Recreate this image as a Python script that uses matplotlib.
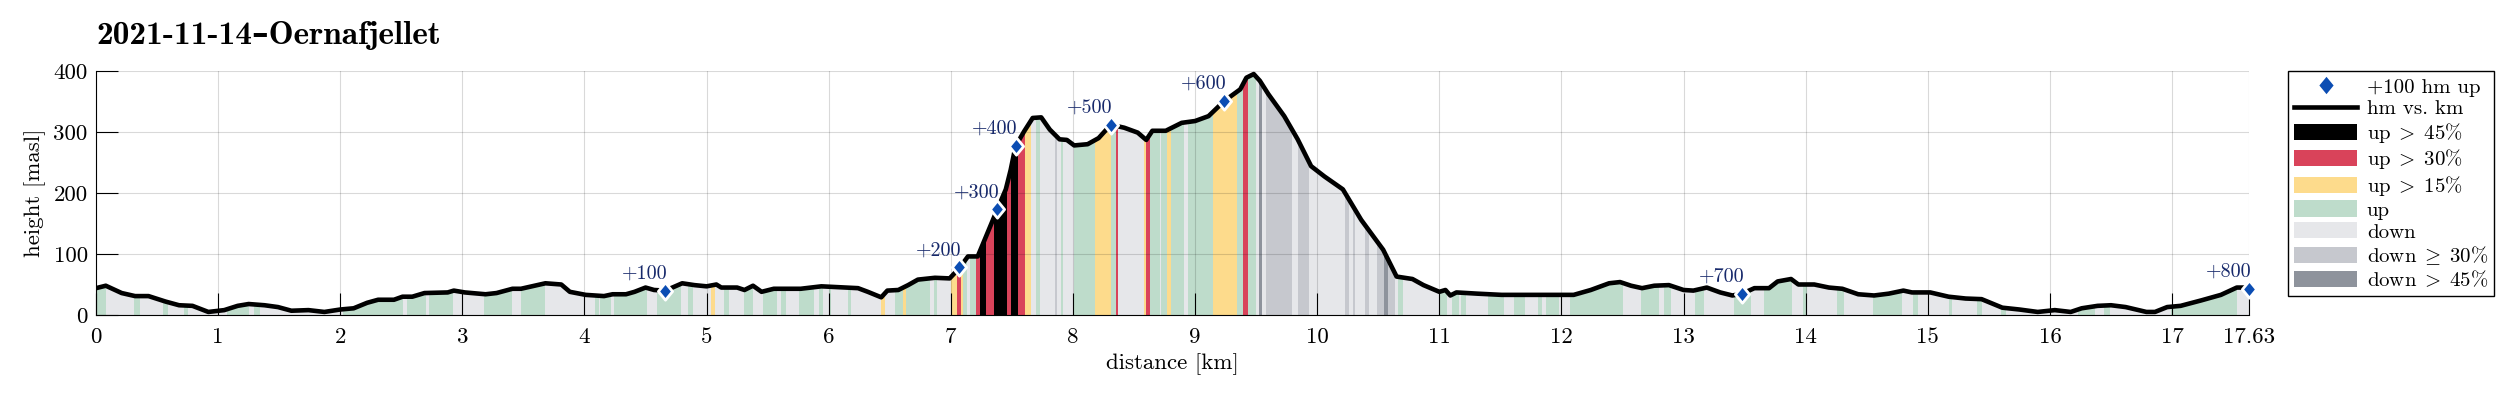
import numpy as np
import matplotlib
matplotlib.use("Agg")
import matplotlib.pyplot as plt
from matplotlib.lines import Line2D
from matplotlib.patches import Patch

plt.rcParams['font.family'] = ['cmr10', 'DejaVu Serif']
plt.rcParams['mathtext.fontset'] = 'cm'
plt.rcParams['axes.unicode_minus'] = False

# ---------------- data ----------------
dist_km = [0.00, 0.08, 0.21, 0.32, 0.43, 0.57, 0.68, 0.79, 0.92, 1.05, 1.16, 1.25, 1.38, 1.49,
           1.60, 1.74, 1.87, 2.00, 2.11, 2.22, 2.31, 2.44, 2.51, 2.59, 2.69, 2.88, 2.93, 3.02,
           3.19, 3.28, 3.41, 3.48, 3.68, 3.81, 3.88, 4.01, 4.16, 4.23, 4.34, 4.41, 4.50, 4.57,
           4.66, 4.72, 4.80, 4.90, 5.00, 5.08, 5.12, 5.25, 5.31, 5.38, 5.45, 5.55, 5.77, 5.94,
           6.13, 6.24, 6.32, 6.43, 6.48, 6.57, 6.65, 6.73, 6.87, 6.99, 7.07, 7.14, 7.22, 7.28,
           7.38, 7.45, 7.49, 7.53, 7.60, 7.67, 7.74, 7.81, 7.89, 7.95, 8.01, 8.12, 8.21, 8.31,
           8.42, 8.53, 8.60, 8.65, 8.76, 8.89, 9.00, 9.11, 9.24, 9.37, 9.42, 9.48, 9.53, 9.60,
           9.73, 9.84, 9.95, 10.06, 10.21, 10.36, 10.54, 10.65, 10.78, 10.87, 11.00, 11.05,
           11.09, 11.14, 11.31, 11.51, 11.91, 12.10, 12.24, 12.39, 12.48, 12.57, 12.66, 12.76,
           12.88, 13.00, 13.08, 13.19, 13.30, 13.40, 13.48, 13.58, 13.70, 13.77, 13.88, 13.94,
           14.07, 14.19, 14.30, 14.43, 14.56, 14.68, 14.80, 14.87, 15.02, 15.17, 15.31, 15.44,
           15.61, 15.75, 15.90, 16.04, 16.17, 16.26, 16.39, 16.50, 16.62, 16.79, 16.86, 16.96,
           17.07, 17.24, 17.40, 17.53, 17.63]
height_m = [44, 48, 36, 31, 31, 22, 16, 15, 5, 8, 15, 18, 16, 13,
            7, 8, 5, 9, 11, 20, 25, 25, 30, 30, 36, 37, 40, 37,
            34, 36, 43, 43, 52, 50, 38, 33, 31, 34, 34, 38, 45, 41,
            40, 45, 52, 49, 47, 50, 45, 45, 41, 48, 38, 43, 43, 47,
            45, 44, 38, 29, 40, 41, 49, 58, 61, 60, 77, 96, 96, 125,
            173, 206, 238, 277, 301, 323, 324, 304, 288, 287, 278, 280, 290, 312,
            307, 299, 287, 302, 302, 315, 318, 326, 351, 370, 389, 395, 384, 362,
            326, 288, 244, 227, 206, 156, 107, 63, 59, 49, 38, 41,
            32, 37, 35, 33, 33, 33, 41, 52, 54, 48, 44, 48,
            49, 41, 40, 45, 37, 32, 35, 44, 44, 55, 59, 50,
            50, 45, 43, 34, 32, 35, 40, 37, 37, 30, 27, 26,
            12, 9, 5, 8, 5, 11, 15, 16, 13, 5, 5, 13,
            15, 24, 33, 45, 45]

# gradient classes along the track (km ranges); everything else is "down"
up_spans = [(0.00, 0.08), (0.31, 0.36), (0.55, 0.59), (0.72, 0.75), (1.07, 1.25), (1.29, 1.34),
            (2.02, 2.51), (2.55, 2.70), (2.73, 2.92), (3.18, 3.41), (3.48, 3.68), (4.09, 4.12),
            (4.13, 4.22), (4.24, 4.51), (4.59, 4.79), (4.85, 4.89), (5.14, 5.18), (5.31, 5.38),
            (5.46, 5.58), (5.61, 5.65), (5.76, 5.88), (5.92, 5.95), (6.00, 6.02), (6.16, 6.18),
            (6.54, 6.61), (6.63, 6.83), (6.86, 6.89), (7.10, 7.13), (7.16, 7.21), (7.70, 7.73),
            (7.90, 7.92), (8.01, 8.18), (8.31, 8.35), (8.63, 8.71), (8.72, 8.77), (8.80, 8.91),
            (8.94, 9.15), (9.34, 9.39), (9.43, 9.50), (10.66, 10.70), (11.00, 11.06),
            (11.10, 11.16), (11.18, 11.22), (11.40, 11.53), (11.61, 11.70), (11.81, 11.84),
            (11.87, 11.98), (12.07, 12.50), (12.65, 12.80), (12.84, 12.90), (13.09, 13.17),
            (13.41, 13.55), (13.66, 13.89), (13.98, 14.01), (14.26, 14.31), (14.55, 14.79),
            (14.88, 14.92), (15.17, 15.20), (15.40, 15.44), (15.60, 15.64), (16.23, 16.37),
            (16.44, 16.49), (16.99, 17.53)]
up15_spans = [(5.04, 5.07), (6.43, 6.46), (6.61, 6.63), (7.00, 7.05), (7.08, 7.10), (7.61, 7.66),
              (8.18, 8.31), (8.58, 8.60), (8.77, 8.80), (9.15, 9.34)]
up30_spans = [(7.05, 7.08), (7.21, 7.24), (7.29, 7.35), (7.46, 7.49), (7.55, 7.61), (8.35, 8.37),
              (8.60, 8.63), (9.39, 9.43)]
up45_spans = [(7.24, 7.29), (7.35, 7.46), (7.49, 7.55)]
down30_spans = [(7.85, 7.87), (9.58, 9.79), (9.84, 9.93), (10.23, 10.26), (10.29, 10.31),
                (10.39, 10.42), (10.49, 10.55), (10.58, 10.64)]
down45_spans = [(9.52, 9.55), (10.55, 10.58)]

marker_km = [4.66, 7.07, 7.38, 7.53, 8.31, 9.24, 13.48, 17.63]
marker_h = [40, 78, 173, 277, 312, 351, 35, 43]
marker_lbl = ['+100', '+200', '+300', '+400', '+500', '+600', '+700', '+800']

x_ticks = [0, 1, 2, 3, 4, 5, 6, 7, 8, 9, 10, 11, 12, 13, 14, 15, 16, 17, 17.63]
x_ticklabels = ['0', '1', '2', '3', '4', '5', '6', '7', '8', '9', '10', '11', '12', '13',
                '14', '15', '16', '17', '17.63']
y_ticks = [0, 100, 200, 300, 400]

legend_labels = ['+100 hm up', 'hm vs. km', r'$\mathrm{up}\;>\;45\%$', r'$\mathrm{up}\;>\;30\%$',
                 r'$\mathrm{up}\;>\;15\%$', 'up', 'down', r'$\mathrm{down}\;\geq\;30\%$',
                 r'$\mathrm{down}\;>\;45\%$']

# ---------------- style ----------------
C_UP45 = '#000000'
C_UP30 = '#d9435a'
C_UP15 = '#fddb8c'
C_UP = '#bedccb'
C_DOWN = '#e6e7ea'
C_DOWN30 = '#c6c8ce'
C_DOWN45 = '#8e939c'
C_MARK = '#0b4db3'
C_MTXT = '#17296b'
LW = 3.3
FS = 16.5

W, H = 2501, 399
fig = plt.figure(figsize=(W / 100, H / 100), dpi=100)
ax_l, ax_r, ax_t, ax_b = 96, 2249, 71, 315
ax = fig.add_axes([ax_l / W, 1 - ax_b / H, (ax_r - ax_l) / W, (ax_b - ax_t) / H])

base = ax.fill_between(dist_km, 0, height_m, color=C_DOWN, lw=0, zorder=1)
clip_path = base.get_paths()[0]
for spans, col in [(up_spans, C_UP), (up15_spans, C_UP15), (up30_spans, C_UP30),
                   (up45_spans, C_UP45), (down30_spans, C_DOWN30), (down45_spans, C_DOWN45)]:
    for a, b in spans:
        r = ax.axvspan(a, b, color=col, lw=0, zorder=1.1)
        r.set_clip_path(clip_path, ax.transData)

ax.plot(dist_km, height_m, color='k', lw=LW, zorder=3, solid_joinstyle='round',
        solid_capstyle='round')

diamond = [(0, 1), (0.82, 0), (0, -1), (-0.82, 0), (0, 1)]
ax.plot(marker_km, marker_h, ls='none', marker=diamond, ms=12.5, mfc=C_MARK, mec='white',
        mew=2.0, zorder=4, clip_on=False)
for xk, yh, s in zip(marker_km, marker_h, marker_lbl):
    ax.annotate(s, (xk, yh), xytext=(1.5, 8.8), textcoords='offset points', ha='right',
                va='baseline', color=C_MTXT, fontsize=14.5, zorder=5)

ax.set_xlim(0, 17.63)
ax.set_ylim(0, 400)
ax.set_xticks(x_ticks)
ax.set_xticklabels(x_ticklabels)
ax.set_yticks(y_ticks)
ax.set_yticklabels([str(v) for v in y_ticks])
ax.set_axisbelow(False)
ax.grid(True, color='k', alpha=0.15, lw=0.8)
ax.tick_params(direction='in', length=15.5, width=0.8, labelsize=FS, top=False, right=False)
ax.tick_params(axis='x', pad=9)
ax.tick_params(axis='y', pad=6)
for s in ['top', 'right']:
    ax.spines[s].set_visible(False)
for s in ['left', 'bottom']:
    ax.spines[s].set_linewidth(0.8)
    ax.spines[s].set_color('k')

fig.text(1172 / W, 1 - 364 / H, 'distance [km]', ha='center', va='center', fontsize=FS)
fig.text(35 / W, 1 - 193 / H, 'height [masl]', ha='center', va='center', rotation=90,
         fontsize=FS)
fig.text(96 / W, 1 - 44 / H, '2021-11-14\u2013Oernafjellet', ha='left', va='baseline',
         fontsize=24, family=['cmb10', 'DejaVu Serif'], fontweight='bold')

handles = [
    Line2D([], [], ls='none', marker=diamond, ms=12.5, mfc=C_MARK, mec=C_MARK, mew=0),
    Line2D([], [], color='k', lw=LW),
    Patch(facecolor=C_UP45, edgecolor='none'),
    Patch(facecolor=C_UP30, edgecolor='none'),
    Patch(facecolor=C_UP15, edgecolor='none'),
    Patch(facecolor=C_UP, edgecolor='none'),
    Patch(facecolor=C_DOWN, edgecolor='none'),
    Patch(facecolor=C_DOWN30, edgecolor='none'),
    Patch(facecolor=C_DOWN45, edgecolor='none'),
]
leg = fig.legend(handles, legend_labels, loc='upper left',
                 bbox_to_anchor=(2288 / W, 1 - 71 / H), bbox_transform=fig.transFigure,
                 borderaxespad=0, frameon=True, fancybox=False, edgecolor='k', framealpha=1,
                 fontsize=15, handlelength=3.0, handleheight=0.82, handletextpad=0.48,
                 labelspacing=0.12, borderpad=0.3)
leg.get_frame().set_linewidth(1.0)

fig.savefig('out.png', dpi=100)
